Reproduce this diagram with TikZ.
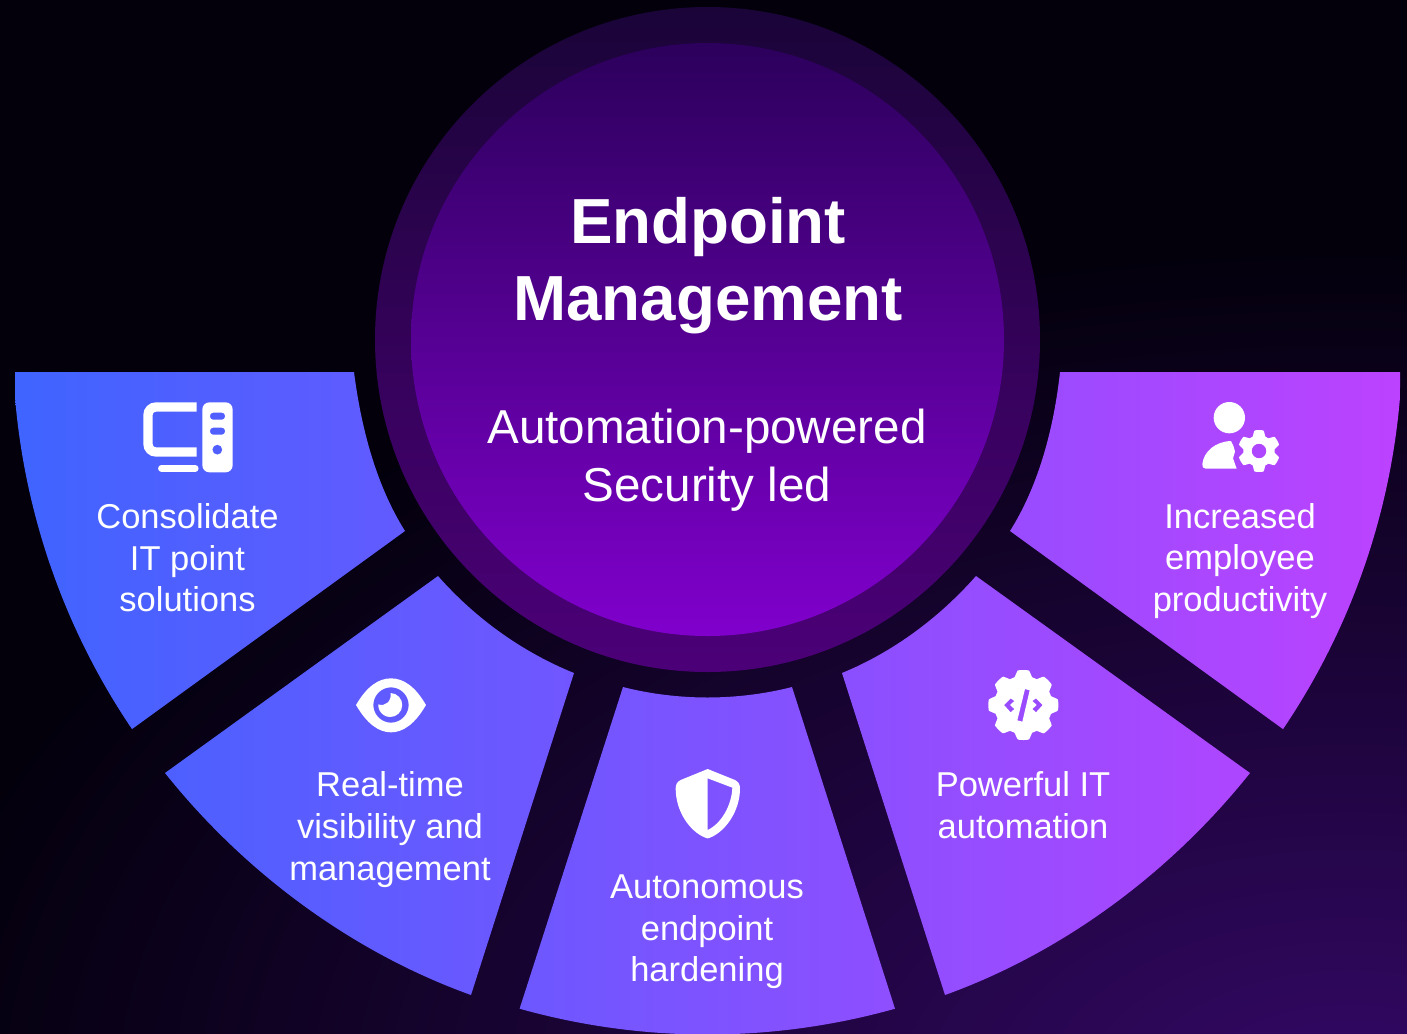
\documentclass[tikz,border=0pt]{standalone}
\usepackage{fontspec}
\setmainfont{Liberation Sans}
\definecolor{bgdark}{HTML}{03000C}
\definecolor{bgglow}{HTML}{340866}
\definecolor{ringtop}{HTML}{1A0438}
\definecolor{ringbot}{HTML}{4C0078}
\definecolor{disctop}{HTML}{2C005C}
\definecolor{discbot}{HTML}{8000CC}
\definecolor{gradL}{HTML}{3F64FF}
\definecolor{gradM}{HTML}{7C52FF}
\definecolor{gradR}{HTML}{BC42FF}
\newcommand\gearplot[6]{% cx cy mean amp teeth sign
  plot[domain=0:359,samples=180] ({#1+(#3+#4*max(-1,min(1,#6*1.9*cos(#5*\x)+0.5)))*cos(\x)},{#2+(#3+#4*max(-1,min(1,#6*1.9*cos(#5*\x)+0.5)))*sin(\x)}) -- cycle}
\tikzset{
  lab/.style={text=white,align=center,font=\fontsize{34.5}{41.6}\selectfont},
  icon/.style={fill=white,even odd rule,draw=none},
}
\begin{document}
\begin{tikzpicture}[x=1pt,y=1pt,yscale=-1]
\useasboundingbox (0,0) rectangle (1407,1033);
% background
\begin{scope}
  \clip (-5,-5) rectangle (1412,1040);
  \fill[bgdark] (-5,-5) rectangle (1412,1040);
  \shade[inner color=bgglow,outer color=bgdark] (1350,1100) ellipse [x radius=1450,y radius=850];
\end{scope}
% sectors with one shared gradient
\begin{scope}
  \clip
    % left
    (354,372) .. controls (361,427) and (376,485) .. (405,531) -- (132,729.1)
      arc[start angle=145.91,end angle=177.31,radius=695] -- cycle
    % lower left
    (438,576) .. controls (475,618) and (522,652) .. (574,673) -- (471,995)
      .. controls (351.5,952) and (244,872) .. (165,773) -- cycle
    % bottom
    (792,687) -- (895,1008.7) arc[start angle=74.33,end angle=105.67,radius=695]
      -- (623,687) .. controls (650,694) and (680,697.5) .. (707.5,697.5)
      .. controls (735,697.5) and (765,694) .. (792,687) -- cycle
    % lower right
    (976,576) .. controls (939,618) and (893,652) .. (842,673) -- (945,995)
      .. controls (1064,952) and (1171,872) .. (1250,773) -- cycle
    % right
    (1060,372) .. controls (1054,427) and (1039,485) .. (1010,531) -- (1283,729.1)
      arc[start angle=34.09,end angle=2.69,radius=695] -- cycle;
  \shade[left color=gradL,middle color=gradM,right color=gradR] (15,360) rectangle (1400,1040);
\end{scope}
% centre discs
\shade[top color=ringtop,bottom color=ringbot] (707.5,339.5) circle (332.5);
\shade[top color=disctop,bottom color=discbot] (707.5,339.5) circle (296.5);
% texts
\node[text=white,align=center,font=\fontsize{63.7}{77}\selectfont\bfseries] (title) at (708,266) {Endpoint\\Management};
\node[text=white,align=center,font=\fontsize{47.6}{58}\selectfont] (subtitle) at (707,460) {Automation-powered\\Security led};
\node[lab] (t1) at (187.5,558) {Consolidate\\IT point\\solutions};
\node[lab] (t2) at (390,829.5) {Real-time\\visibility and\\management};
\node[lab] (t3) at (707,932) {Autonomous\\endpoint\\hardening};
\node[lab] (t4) at (1023,805) {Powerful IT\\automation};
\node[lab] (t5) at (1240,561) {Increased\\employee\\productivity};
% icon: computer
\begin{scope}[shift={(120,385)},scale=1/3]
  \draw[white,line width=9.3pt,rounded corners=8pt] (230,66) -- (84,66) -- (84,201) -- (230,201);
  \draw[white,line width=6.5pt,line cap=round] (124,250) -- (226,250);
  \fill[icon] [rounded corners=7pt] (247,52) rectangle (338,262)
     [rounded corners=3pt] (270,83) rectangle (315,104) (270,128) rectangle (315,149)
     [sharp corners] (292,194) circle (15);
\end{scope}
% icon: eye
\begin{scope}[shift={(340,660)},scale=1/3]
  \fill[icon] (48,135) .. controls (80,80) and (115,55) .. (153,55)
     .. controls (191,55) and (226,80) .. (258,135)
     .. controls (226,190) and (191,217) .. (153,217)
     .. controls (115,217) and (80,190) .. (48,135) -- cycle
     (153,135) circle (53);
  \fill[white] (152,99) arc[start angle=-88,end angle=183,radius=36]
     .. controls (135,140) and (155,125) .. (152,99) -- cycle;
\end{scope}
% icon: shield
\begin{scope}[shift={(660,755)},scale=1/3]
  \fill[icon] (143,42) -- (225,75) .. controls (235,80) and (240,88) .. (240,100)
     .. controls (240,170) and (195,230) .. (150,248)
     .. controls (145,251) and (141,251) .. (136,248)
     .. controls (90,230) and (47,170) .. (47,100)
     .. controls (47,88) and (52,80) .. (62,75) -- cycle
     (143,70) -- (217,98) .. controls (215,150) and (185,205) .. (143,225) -- cycle;
\end{scope}
% icon: code gear
\begin{scope}[shift={(970,660)},scale=1/3]
  \fill[icon] \gearplot{160}{135}{96}{9}{8}{1}
     (102,135) -- (122,115) -- (133,123) -- (120,135) -- (133,147) -- (122,157) -- cycle
     (218,135) -- (198,115) -- (187,123) -- (200,135) -- (187,147) -- (198,157) -- cycle
     (179,91) -- (165,87) -- (142,181) -- (157,185) -- cycle;
\end{scope}
% icon: person and gear
\begin{scope}[shift={(1185,390)},scale=1/3]
  \fill[white] (133,83) circle (47);
  \fill[white] (62,236) .. controls (54,236) and (51,230) .. (52,222)
     .. controls (56,185) and (90,155) .. (138,153)
     -- (146,170) -- (150,185) -- (144,205) -- (155,236) -- cycle;
  \fill[icon] \gearplot{222}{183}{55}{8}{6}{-1} (222,183) circle (22);
\end{scope}
\end{tikzpicture}
\end{document}
